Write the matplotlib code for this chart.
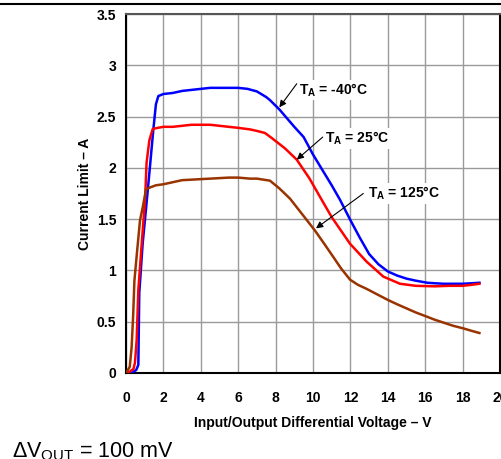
import matplotlib
matplotlib.use("Agg")
import matplotlib.pyplot as plt
from matplotlib.lines import Line2D

plt.rcParams['font.family'] = ['Liberation Sans', 'DejaVu Sans']
plt.rcParams['mathtext.fontset'] = 'custom'
plt.rcParams['mathtext.rm'] = 'Liberation Sans'
plt.rcParams['mathtext.bf'] = 'Liberation Sans:bold'
plt.rcParams['mathtext.it'] = 'Liberation Sans:italic'

# ---- data ----
v_m40 = [0.0, 0.3, 0.55, 0.66, 0.71, 0.89, 1.07, 1.25, 1.46, 1.6, 1.73, 2.0, 2.5, 3.0, 3.5, 4.0,
         4.5, 5.0, 5.5, 6.0, 6.5, 7.0, 7.5, 7.7, 8.2, 9.0, 9.5, 10.0, 10.4, 11.0, 11.44, 12.0,
         12.5, 13.0, 13.5, 14.0, 14.5, 15.0, 15.5, 16.1, 16.5, 17.0, 17.5, 18.0, 18.5, 18.9]
i_m40 = [0.0, 0.0, 0.03, 0.08, 0.78, 1.26, 1.60, 1.95, 2.37, 2.62, 2.70, 2.72, 2.73, 2.75, 2.76, 2.77,
         2.78, 2.78, 2.78, 2.78, 2.77, 2.745, 2.69, 2.66, 2.57, 2.40, 2.30, 2.13, 2.01, 1.83, 1.69, 1.49,
         1.32, 1.16, 1.06, 0.99, 0.95, 0.92, 0.90, 0.88, 0.875, 0.87, 0.87, 0.87, 0.875, 0.88]

v_25 = [0.0, 0.1, 0.4, 0.48, 0.57, 0.66, 0.84, 1.02, 1.1, 1.25, 1.43, 1.7, 2.0, 2.5, 3.0, 3.5, 4.0,
        4.5, 5.0, 5.5, 6.0, 6.63, 7.0, 7.43, 7.8, 8.5, 9.13, 9.8, 10.46, 11.0, 11.98, 12.87,
        13.76, 14.65, 15.5, 16.5, 17.3, 18.0, 18.5, 18.9]
i_25 = [0.0, 0.0, 0.04, 0.10, 0.32, 0.81, 1.26, 1.69, 2.05, 2.27, 2.38, 2.39, 2.40, 2.40, 2.41, 2.42, 2.42,
        2.42, 2.41, 2.40, 2.39, 2.375, 2.36, 2.34, 2.29, 2.19, 2.08, 1.90, 1.69, 1.52, 1.26, 1.085,
        0.94, 0.87, 0.85, 0.845, 0.85, 0.85, 0.86, 0.87]

v_125 = [0.0, 0.2, 0.3, 0.38, 0.45, 0.6, 0.75, 0.9, 1.0, 1.07, 1.3, 1.6, 2.0, 2.5, 3.0, 3.5, 4.0,
         4.5, 5.0, 5.5, 6.0, 6.63, 7.0, 7.7, 8.2, 8.77, 9.5, 10.1, 10.6, 11.09, 11.5, 11.98, 12.4,
         12.87, 13.5, 14.03, 14.5, 15.0, 15.5, 16.08, 16.5, 17.0, 17.5, 18.04, 18.5, 18.9]
i_125 = [0.0, 0.06, 0.25, 0.55, 0.90, 1.20, 1.49, 1.62, 1.72, 1.79, 1.81, 1.83, 1.84, 1.86, 1.88, 1.885, 1.89,
         1.895, 1.90, 1.905, 1.905, 1.895, 1.895, 1.875, 1.80, 1.70, 1.53, 1.39, 1.26, 1.13, 1.02, 0.91, 0.86,
         0.82, 0.76, 0.71, 0.67, 0.63, 0.59, 0.55, 0.52, 0.49, 0.46, 0.435, 0.41, 0.39]

labels = [r'T$_{\mathbf{A}}$ = -40°C', r'T$_{\mathbf{A}}$ = 25°C', r'T$_{\mathbf{A}}$ = 125°C']
label_pos = [(9.25, 2.76), (10.64, 2.287), (12.96, 1.75)]
arrow_tail = [(9.13, 2.82), (10.52, 2.30), (12.69, 1.75)]
arrow_tip = [(8.2, 2.59), (9.13, 2.08), (10.16, 1.41)]

x_ticks = [0, 2, 4, 6, 8, 10, 12, 14, 16, 18, 20]
y_ticks = [0, 0.5, 1, 1.5, 2, 2.5, 3, 3.5]
y_ticklabels = ['0', '0.5', '1', '1.5', '2', '2.5', '3', '3.5']

# ---- figure ----
fig = plt.figure(figsize=(5.01, 4.59), dpi=100)
ax = fig.add_axes([126/501, 1-373/459, 374/501, 359/459])

ax.plot(v_m40, i_m40, color='#0000FF', lw=1.8, zorder=3)
ax.plot(v_25, i_25, color='#FF0000', lw=1.8, zorder=3)
ax.plot(v_125, i_125, color='#993300', lw=1.8, zorder=3)

ax.set_xlim(0, 20)
ax.set_ylim(0, 3.5)
ax.set_xticks(x_ticks)
ax.set_xticklabels([str(t) for t in x_ticks])
ax.set_yticks(y_ticks)
ax.set_yticklabels(y_ticklabels)
ax.grid(True, color='#9a9a9a', lw=1.0)
ax.set_axisbelow(True)
ax.tick_params(axis='both', length=0, labelsize=10)
ax.tick_params(axis='x', pad=13)
ax.tick_params(axis='y', pad=7)
for lab in ax.get_xticklabels() + ax.get_yticklabels():
    lab.set_fontweight('bold')

for s in ['left', 'bottom', 'right']:
    ax.spines[s].set_color('black')
    ax.spines[s].set_linewidth(1.5)
ax.spines['top'].set_color('#555555')
ax.spines['top'].set_linewidth(1.5)

ax.set_xlabel('Input/Output Differential Voltage – V', fontsize=10, fontweight='bold')
ax.set_ylabel('Current Limit – A', fontsize=10, fontweight='bold')
ax.xaxis.set_label_coords(0.5, (373-423)/359)
ax.xaxis.label.set_va('center')
ax.yaxis.set_label_coords((85-126)/374, 0.5)
ax.yaxis.label.set_va('center')

for lab, pos, tail, tip in zip(labels, label_pos, arrow_tail, arrow_tip):
    ax.text(pos[0], pos[1], lab, fontsize=10, fontweight='bold', ha='left', va='center',
            bbox=dict(facecolor='white', edgecolor='none', pad=1.0), zorder=4)
    ax.annotate('', xy=tip, xytext=tail,
                arrowprops=dict(arrowstyle='-|>', color='black', lw=0.8,
                                shrinkA=0, shrinkB=0, mutation_scale=10), zorder=5)

fig.add_artist(Line2D([0, 1], [1-4.3/459, 1-4.3/459], color='black', lw=1.5,
                      transform=fig.transFigure))

fig.text(12/501, 2/459, 'ΔV$_{\\mathrm{OUT}}$ = 100 mV', fontsize=15.5, ha='left', va='baseline')

fig.savefig('out.png', dpi=100)
